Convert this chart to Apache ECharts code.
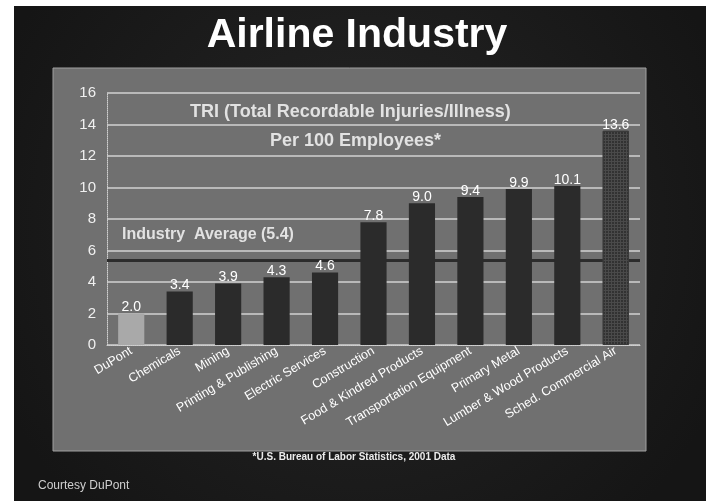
<!DOCTYPE html>
<html>
<head>
<meta charset="utf-8">
<script src="https://cdn.jsdelivr.net/npm/echarts@6/dist/echarts.min.js"></script>
<style>
html,body{margin:0;padding:0;background:#ffffff;}
#main{width:706px;height:501px;}
</style>
</head>
<body>
<div id="main"></div>
<script type="text/javascript">
// data
var categories = ['DuPont', 'Chemicals', 'Mining', 'Printing & Publishing', 'Electric Services',
  'Construction', 'Food & Kindred Products', 'Transportation Equipment', 'Primary Metal',
  'Lumber & Wood Products', 'Sched. Commercial Air'];
var tri = [2.0, 3.4, 3.9, 4.3, 4.6, 7.8, 9.0, 9.4, 9.9, 10.1, 13.6];
var industryAvg = 5.4;
var yTicks = [0, 2, 4, 6, 8, 10, 12, 14, 16];

var chart = echarts.init(document.getElementById('main'));

// bar colours: dupont light, the rest dark, airline hatched
var barData = tri.map(function (v, i) {
  var st = { color: '#2b2b2b' };
  if (i == 0) st = { color: '#a9a9a9' };
  if (i == tri.length - 1) {
    st = { color: '#4a4a4a', borderColor: '#3a3a3a', borderWidth: 1,
      decal: { symbol: 'rect', symbolSize: 1, dashArrayX: [2, 1], dashArrayY: [2, 1], color: 'rgba(40,40,40,0.7)' } };
  }
  return { value: v, itemStyle: st };
});

var option = {
  backgroundColor: '#ffffff',
  animation: false,
  graphic: [
    // dark slide background
    { type: 'rect', z: -2, shape: { x: 14, y: 6, width: 692, height: 495 },
      style: { fill: {
        type: 'radial', x: 0.5, y: 0.45, r: 0.8,
        colorStops: [{ offset: 0, color: '#262626' }, { offset: 1, color: '#151515' }] } } },
    // gray panel
    { type: 'rect', z: -1, shape: { x: 53, y: 68, width: 593, height: 383 },
      style: { fill: '#707070', stroke: '#a0a0a0', lineWidth: 1 } },
    { type: 'text', x: 357, y: 15,
      style: { text: 'Airline Industry', fill: '#ffffff', font: 'bold 41px Liberation Sans', textAlign: 'center' } },
    { type: 'text', x: 354, y: 452,
      style: { text: '*U.S. Bureau of Labor Statistics, 2001 Data', fill: '#ececec', font: 'bold 10px Liberation Sans', textAlign: 'center' } },
    { type: 'text', left: 38, top: 480,
      style: { text: 'Courtesy DuPont', fill: '#cfcfcf', font: '12px Liberation Sans' } },
    { type: 'text', left: 190, top: 103, z: 10,
      style: { text: 'TRI (Total Recordable Injuries/Illness)', fill: '#e2e2e2', font: 'bold 18px Liberation Sans' } },
    { type: 'text', left: 270, top: 132, z: 10,
      style: { text: 'Per 100 Employees*', fill: '#e2e2e2', font: 'bold 18px Liberation Sans' } }
  ],
  grid: { left: 107, right: 66, top: 93, bottom: 156 },
  xAxis: {
    type: 'category',
    data: categories,
    axisLine: { lineStyle: { color: '#d0d0d0', type: 'dotted' } },
    axisTick: { show: false },
    axisLabel: {
      color: '#ffffff', fontSize: 12.5, rotate: 31, interval: 0, margin: 5,
      fontFamily: 'Liberation Sans'
    }
  },
  yAxis: {
    type: 'value',
    min: yTicks[0],
    max: yTicks[yTicks.length - 1],
    interval: 2,
    axisLine: { show: true, lineStyle: { color: '#d0d0d0', type: 'dotted' } },
    axisTick: { show: false },
    axisLabel: { color: '#f0f0f0', fontSize: 15, margin: 11, fontFamily: 'Liberation Sans' },
    splitLine: { lineStyle: { color: '#d2d2d2', width: 1.5 } }
  },
  series: [{
    type: 'bar',
    data: barData,
    barWidth: '54%',
    label: {
      show: true, position: 'top', distance: -1, color: '#ffffff', fontSize: 14,
      fontFamily: 'Liberation Sans',
      formatter: function (p) { return p.value.toFixed(1); }
    },
    markLine: {
      silent: true,
      symbol: 'none',
      z: 1,
      lineStyle: { color: '#2c2c2c', width: 3, type: 'solid' },
      label: {
        position: 'insideStartTop', distance: [15, 17],
        formatter: 'Industry  Average (' + industryAvg + ')',
        color: '#e2e2e2', fontSize: 16, fontWeight: 'bold', fontFamily: 'Liberation Sans'
      },
      data: [{ yAxis: industryAvg }]
    }
  }]
};

chart.setOption(option);
</script>
</body>
</html>
